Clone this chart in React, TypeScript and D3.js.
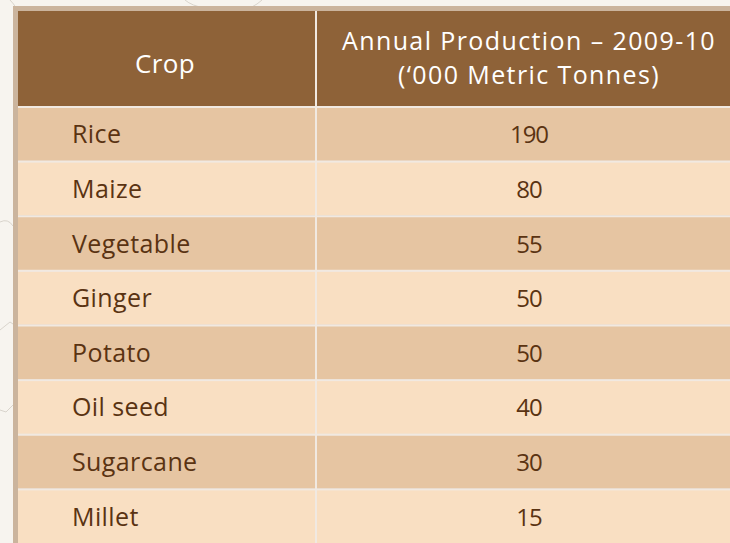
import React from 'react'
import * as d3 from 'd3'

const crops = ['Rice', 'Maize', 'Vegetable', 'Ginger', 'Potato', 'Oil seed', 'Sugarcane', 'Millet']
const production = [190, 80, 55, 50, 50, 40, 30, 15]
const headerCrop = 'Crop'
const headerValue = ['Annual Production – 2009-10', '(‘000 Metric Tonnes)']

const W = 730
const H = 543
const font = '"Open Sans", sans-serif'

const App = () => {
  const left = 13
  const border = 5
  const top = 6
  const headerBottom = 106
  const divider = 315

  // one band per crop row, separator line sits at the top of each band
  const y = d3.scaleBand<string>()
    .domain(crops)
    .range([headerBottom, H])
    .paddingInner(0)

  const x = d3.scaleOrdinal<string, number>()
    .domain(['crop', 'value'])
    .range([left + border, divider + 2])

  const cropCenter = 165
  const valueCenter = 529

  return (
    <svg width={W} height={H} style={{ position: 'absolute', left: 0, top: 0, display: 'block' }}>
      <rect width={W} height={H} fill="#f7f4ef" />
      {/* faint map outlines behind the table */}
      <g fill="none" stroke="#d9d4cc" strokeWidth={1}>
        <path d="M10,0 Q14,4 16,8" />
        <path d="M185,0 Q192,6 205,8 L250,8 Q258,4 262,0" />
        <path d="M0,222 Q8,218 13,226" />
        <path d="M0,330 L10,322 L13,324" />
        <path d="M0,410 L6,412 L13,405" />
      </g>

      {/* outer border */}
      <rect x={left} y={top} width={W - left} height={H - top} fill="#cbb49d" />

      {/* header */}
      <rect x={left + border} y={top + border} width={W - left - border} height={headerBottom - top - border} fill="#8e6238" />

      {/* rows */}
      {crops.map((c, i) => (
        <g key={c} transform={`translate(0,${y(c)})`}>
          <rect x={left + border} y={0} width={W - left - border} height={y.bandwidth()} fill="#f1e9e1" />
          <rect x={left + border} y={2} width={W - left - border} height={y.bandwidth() - 2}
            fill={i % 2 === 0 ? '#e6c5a2' : '#f9dfc2'} />
          <text x={x('crop') + 54} y={y.bandwidth() / 2 + 10} fontFamily={font} fontSize={25} fill="#5a3312"
            letterSpacing={0.4}>{c}</text>
          <text x={valueCenter} y={y.bandwidth() / 2 + 10} fontFamily={font} fontSize={24} fill="#5a3312"
            textAnchor="middle" letterSpacing={-1}>{production[i]}</text>
        </g>
      ))}

      {/* column divider */}
      <rect x={divider} y={top + border} width={2} height={H - top - border} fill="#f1e9e1" />

      {/* header texts */}
      <text x={cropCenter} y={73} fontFamily={font} fontSize={26} fill="#ffffff" textAnchor="middle"
        letterSpacing={0.3}>{headerCrop}</text>
      {headerValue.map((t, i) => (
        <text key={t} x={valueCenter} y={50 + i * 34} fontFamily={font} fontSize={25} fill="#ffffff"
          textAnchor="middle" letterSpacing={1.4}>{t}</text>
      ))}
    </svg>
  )
}

export default App
